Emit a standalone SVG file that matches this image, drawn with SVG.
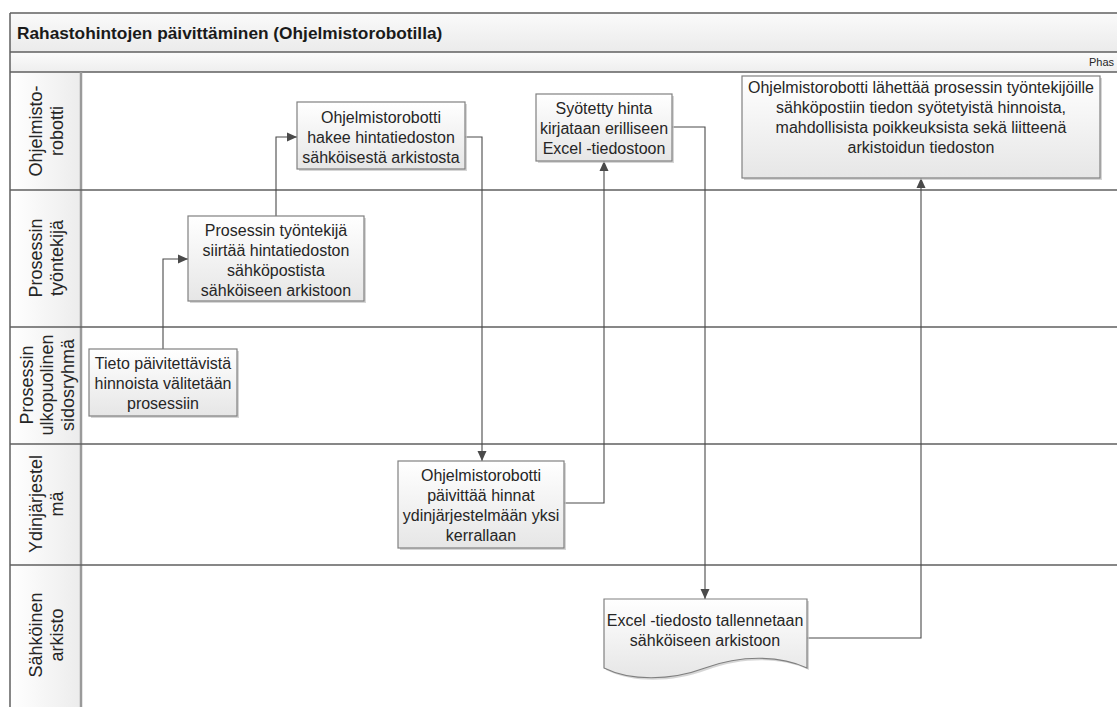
<svg xmlns="http://www.w3.org/2000/svg" width="1117" height="707" viewBox="0 0 1117 707">
  <defs>
    <linearGradient id="nodeFill" x1="0" y1="0" x2="0" y2="1">
      <stop offset="0" stop-color="#ffffff"/>
      <stop offset="1" stop-color="#e6e6e6"/>
    </linearGradient>
    <linearGradient id="titleFill" x1="0" y1="0" x2="0" y2="1">
      <stop offset="0" stop-color="#fafafa"/>
      <stop offset="1" stop-color="#ebebeb"/>
    </linearGradient>
    <linearGradient id="phaseFill" x1="0" y1="0" x2="0" y2="1">
      <stop offset="0" stop-color="#fbfbfb"/>
      <stop offset="1" stop-color="#eeeeee"/>
    </linearGradient>
    <linearGradient id="laneHeadFill" x1="0" y1="0" x2="1" y2="0">
      <stop offset="0" stop-color="#ffffff"/>
      <stop offset="1" stop-color="#ececec"/>
    </linearGradient>
    <marker id="arrow" viewBox="0 0 10 10" refX="10" refY="5" markerWidth="10" markerHeight="10" markerUnits="userSpaceOnUse" orient="auto">
      <path d="M0,0.5 L10,5 L0,9.5 Z" fill="#4a4a4a"/>
    </marker>
    <style>
      .frame { fill: none; stroke: #5f5f5f; stroke-width: 1.5; }
      .lane { stroke: #5f5f5f; stroke-width: 1.5; }
      .box { fill: url(#nodeFill); stroke: #808080; stroke-width: 1.2; }
      .shadow { fill: #c4c4c4; opacity: 0.7; }
      .txt { font-family: "Liberation Sans", Arial, sans-serif; font-size: 16px; fill: #262626; text-anchor: middle; dominant-baseline: central; }
      .lbl { font-family: "Liberation Sans", Arial, sans-serif; font-size: 18px; fill: #262626; text-anchor: middle; dominant-baseline: central; }
      .title { font-family: "Liberation Sans", Arial, sans-serif; font-size: 17.3px; font-weight: bold; fill: #1a1a1a; }
      .phase { font-family: "Liberation Sans", Arial, sans-serif; font-size: 11px; fill: #262626; }
      .conn { fill: none; stroke: #4a4a4a; stroke-width: 1.1; }
    </style>
  </defs>

  <rect x="0" y="0" width="1117" height="707" fill="#ffffff"/>

  <!-- pool header and phase band -->
  <g id="pool">
    <rect x="10" y="13" width="1110" height="39" fill="url(#titleFill)"/>
    <rect x="10" y="52" width="1110" height="20" fill="url(#phaseFill)"/>
    <rect x="10" y="72" width="71" height="640" fill="url(#laneHeadFill)"/>
    <line x1="10" y1="13" x2="1117" y2="13" class="frame"/>
    <line x1="10" y1="13" x2="10" y2="707" class="frame"/>
    <line x1="10" y1="52" x2="1117" y2="52" class="lane"/>
    <line x1="10" y1="72" x2="1117" y2="72" class="lane"/>
    <line x1="81" y1="72" x2="81" y2="707" stroke="#9a9a9a" stroke-width="2.5"/>
    <text x="17" y="39" class="title">Rahastohintojen päivittäminen (Ohjelmistorobotilla)</text>
    <text x="1089" y="66" class="phase">Phas</text>
  </g>

  <!-- swimlanes -->
  <g id="lanes">
    <line x1="10" y1="190" x2="1117" y2="190" class="lane"/>
    <line x1="10" y1="327" x2="1117" y2="327" class="lane"/>
    <line x1="10" y1="444" x2="1117" y2="444" class="lane"/>
    <line x1="10" y1="565" x2="1117" y2="565" class="lane"/>
    <g id="lane-robotti" transform="translate(46,131) rotate(-90)">
      <text class="lbl" x="0" y="-10.5">Ohjelmisto-</text>
      <text class="lbl" x="0" y="10.5">robotti</text>
    </g>
    <g id="lane-tyontekija" transform="translate(46,258) rotate(-90)">
      <text class="lbl" x="0" y="-10.5">Prosessin</text>
      <text class="lbl" x="0" y="10.5">työntekijä</text>
    </g>
    <g id="lane-sidosryhma" transform="translate(47,385) rotate(-90)">
      <text class="lbl" x="0" y="-20.5">Prosessin</text>
      <text class="lbl" x="0" y="0">ulkopuolinen</text>
      <text class="lbl" x="0" y="20.5">sidosryhmä</text>
    </g>
    <g id="lane-ydin" transform="translate(46,504) rotate(-90)">
      <text class="lbl" x="0" y="-10.5">Ydinjärjestel</text>
      <text class="lbl" x="0" y="10.5">mä</text>
    </g>
    <g id="lane-arkisto" transform="translate(46,635) rotate(-90)">
      <text class="lbl" x="0" y="-10.5">Sähköinen</text>
      <text class="lbl" x="0" y="10.5">arkisto</text>
    </g>
  </g>

  <!-- connectors -->
  <g id="connectors">
    <path class="conn" d="M163,349 V259 H188" marker-end="url(#arrow)"/>
    <path class="conn" d="M276,216 V137 H297" marker-end="url(#arrow)"/>
    <path class="conn" d="M465,137 H482 V461" marker-end="url(#arrow)"/>
    <path class="conn" d="M564,503 H604 V161" marker-end="url(#arrow)"/>
    <path class="conn" d="M672,127 H705 V599" marker-end="url(#arrow)"/>
    <path class="conn" d="M807,638 H921 V178" marker-end="url(#arrow)"/>
  </g>

  <!-- process steps -->
  <g id="node-tieto">
    <rect class="shadow" x="91" y="351" width="148" height="67"/>
    <rect class="box" x="89" y="349" width="148" height="67"/>
    <text class="txt" x="163" y="363">Tieto päivitettävistä</text>
    <text class="txt" x="163" y="383">hinnoista välitetään</text>
    <text class="txt" x="163" y="403">prosessiin</text>
  </g>

  <g id="node-siirtaa">
    <rect class="shadow" x="190" y="218" width="176" height="85"/>
    <rect class="box" x="188" y="216" width="176" height="85"/>
    <text class="txt" x="276" y="230">Prosessin työntekijä</text>
    <text class="txt" x="276" y="250">siirtää hintatiedoston</text>
    <text class="txt" x="276" y="270">sähköpostista</text>
    <text class="txt" x="276" y="290">sähköiseen arkistoon</text>
  </g>

  <g id="node-hakee">
    <rect class="shadow" x="299" y="104" width="168" height="67"/>
    <rect class="box" x="297" y="102" width="168" height="67"/>
    <text class="txt" x="381" y="117">Ohjelmistorobotti</text>
    <text class="txt" x="381" y="137">hakee hintatiedoston</text>
    <text class="txt" x="381" y="157">sähköisestä arkistosta</text>
  </g>

  <g id="node-paivittaa">
    <rect class="shadow" x="400" y="463" width="166" height="87"/>
    <rect class="box" x="398" y="461" width="166" height="87"/>
    <text class="txt" x="481" y="475">Ohjelmistorobotti</text>
    <text class="txt" x="481" y="495">päivittää hinnat</text>
    <text class="txt" x="481" y="515">ydinjärjestelmään yksi</text>
    <text class="txt" x="481" y="535">kerrallaan</text>
  </g>

  <g id="node-kirjataan">
    <rect class="shadow" x="538" y="96" width="136" height="67"/>
    <rect class="box" x="536" y="94" width="136" height="67"/>
    <text class="txt" x="604" y="108">Syötetty hinta</text>
    <text class="txt" x="604" y="128">kirjataan erilliseen</text>
    <text class="txt" x="604" y="148">Excel -tiedostoon</text>
  </g>

  <g id="node-tallennetaan">
    <path class="shadow" d="M606,601 H809 V670 C782,657 742,657 707,670 C672,683 632,683 606,670 Z"/>
    <path class="box" d="M604,599 H807 V668 C780,655 740,655 705,668 C670,681 630,681 604,668 Z"/>
    <text class="txt" x="705" y="620">Excel -tiedosto tallennetaan</text>
    <text class="txt" x="705" y="640">sähköiseen arkistoon</text>
  </g>

  <g id="node-lahettaa">
    <rect class="shadow" x="744" y="78" width="358" height="102"/>
    <rect class="box" x="742" y="76" width="358" height="102"/>
    <text class="txt" x="921" y="87">Ohjelmistorobotti lähettää prosessin työntekijöille</text>
    <text class="txt" x="921" y="107">sähköpostiin tiedon syötetyistä hinnoista,</text>
    <text class="txt" x="921" y="127">mahdollisista poikkeuksista sekä liitteenä</text>
    <text class="txt" x="921" y="147">arkistoidun tiedoston</text>
  </g>
</svg>
